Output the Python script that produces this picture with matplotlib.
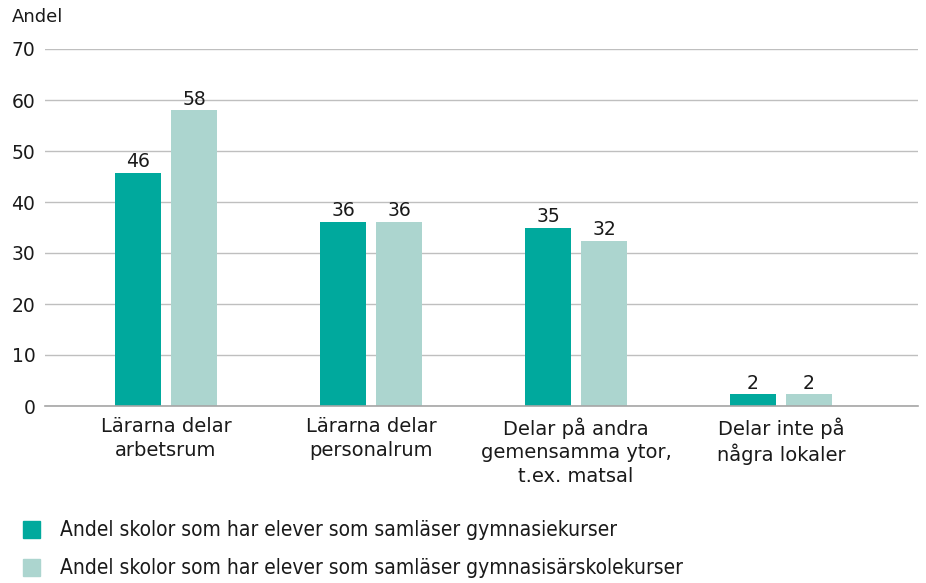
import matplotlib
matplotlib.use("Agg")
import matplotlib.pyplot as plt
from matplotlib.patches import Rectangle
import numpy as np

categories = ["Lärarna delar\narbetsrum", "Lärarna delar\npersonalrum",
              "Delar på andra\ngemensamma ytor,\nt.ex. matsal", "Delar inte på\nnågra lokaler"]
series1_name = "Andel skolor som har elever som samläser gymnasiekurser"
series2_name = "Andel skolor som har elever som samläser gymnasisärskolekurser"
series1 = [45.7, 36.1, 34.9, 2.3]
series2 = [58.0, 36.1, 32.4, 2.3]
labels1 = ["46", "36", "35", "2"]
labels2 = ["58", "36", "32", "2"]
yticks = [0, 10, 20, 30, 40, 50, 60, 70]

c1 = "#00a99d"
c2 = "#acd5cf"
txt = "#1a1a1a"
plt.rcParams['font.family'] = ['DejaVu Sans']

fig = plt.figure(figsize=(9.26, 5.83), dpi=100)
ax = fig.add_axes([45/926, 1-406/583, (918-45)/926, (406-49)/583])

x = np.arange(len(categories))
w = 46/205
off = 28/205
b1 = ax.bar(x - off, series1, w, color=c1, zorder=3)
b2 = ax.bar(x + off, series2, w, color=c2, zorder=3)
for rect, lab in zip(b1, labels1):
    ax.text(rect.get_x() + rect.get_width()/2, rect.get_height() + 0.3, lab,
            ha="center", va="bottom", fontsize=13.5, color=txt)
for rect, lab in zip(b2, labels2):
    ax.text(rect.get_x() + rect.get_width()/2, rect.get_height() + 0.3, lab,
            ha="center", va="bottom", fontsize=13.5, color=txt)

ax.set_xlim(-0.59, 3.668)
ax.set_ylim(0, 70)
ax.set_yticks(yticks)
ax.set_yticklabels([str(t) for t in yticks], fontsize=13.5, color=txt)
ax.yaxis.grid(True, color="#bfbfbf", linewidth=1, zorder=0)
ax.set_xticks(x)
ax.set_xticklabels(categories, fontsize=14, color=txt, linespacing=1.3, va="top")
ax.tick_params(axis="x", length=0, pad=8)
ax.tick_params(axis="y", length=0, pad=7)
for s in ["top", "right", "left"]:
    ax.spines[s].set_visible(False)
ax.spines["bottom"].set_color("#a6a6a6")
ax.spines["bottom"].set_linewidth(1.2)
ax.spines["bottom"].set_zorder(4)

fig.text(12/926, 1-17/583, "Andel", fontsize=13, va="center", ha="left", color=txt)

# legend
for yc, col, name in [(530, c1, series1_name), (568, c2, series2_name)]:
    fig.patches.append(Rectangle((23/926, 1-(yc+8)/583), 17/926, 17/583,
                                 transform=fig.transFigure, color=col, figure=fig))
    fig.text(60/926, 1-yc/583, name, fontsize=15, va="center", ha="left",
             color=txt, family="DejaVu Sans", fontstretch="condensed")

fig.savefig("out.png", dpi=100)
